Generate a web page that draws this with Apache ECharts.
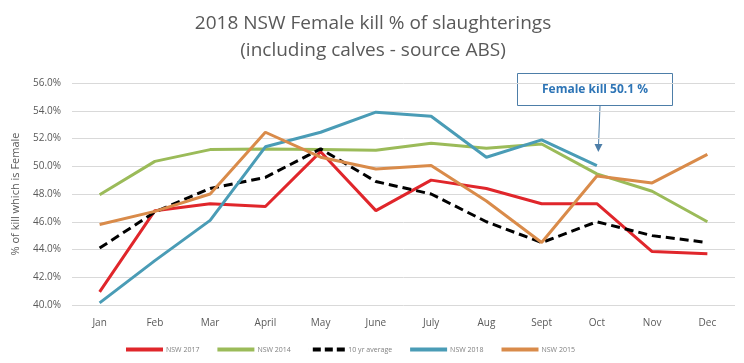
<!DOCTYPE html>
<html>
<head>
<meta charset="utf-8">
<script src="https://cdn.jsdelivr.net/npm/echarts@6/dist/echarts.min.js"></script>
<style>html,body{margin:0;padding:0;background:#fff}#c{width:744px;height:363px}</style>
</head>
<body>
<div id="c"></div>
<script>
var months = ['Jan','Feb','Mar','April','May','June','July','Aug','Sept','Oct','Nov','Dec'];
var nsw2017 = [40.95, 46.8, 47.3, 47.1, 51.05, 46.8, 49.0, 48.4, 47.3, 47.3, 43.85, 43.7];
var nsw2014 = [47.95, 50.35, 51.2, 51.25, 51.2, 51.15, 51.65, 51.3, 51.6, 49.45, 48.2, 46.0];
var avg10 = [44.1, 46.7, 48.4, 49.2, 51.25, 48.9, 48.0, 46.0, 44.5, 46.0, 45.0, 44.5];
var nsw2018 = [40.15, 43.2, 46.1, 51.4, 52.45, 53.9, 53.6, 50.65, 51.9, 50.05, null, null];
var nsw2015 = [45.8, 46.75, 48.0, 52.45, 50.65, 49.8, 50.05, 47.5, 44.5, 49.3, 48.8, 50.85];
var yTicks = {min: 40, max: 56, interval: 2};

function ser(name, data, color, dashed) {
  return {
    name: name, type: 'line', data: data, symbol: 'none', smooth: false,
    lineStyle: {color: color, width: 3, type: dashed ? [9, 5] : 'solid'},
    itemStyle: {color: color},
    connectNulls: false
  };
}

var chart = echarts.init(document.getElementById('c'));
chart.setOption({
  animation: false,
  textStyle: {fontFamily: 'Open Sans'},
  title: {
    text: '2018 NSW Female kill % of slaughterings\n(including calves - source ABS)',
    left: 368, top: 5, textAlign: 'center',
    textStyle: {fontSize: 19, fontWeight: 'normal', color: '#595959', lineHeight: 27, fontFamily: 'Open Sans'}
  },
  grid: {left: 72, right: 9, top: 83, bottom: 58},
  xAxis: {
    type: 'category', data: months, boundaryGap: true,
    axisLine: {show: false}, axisTick: {show: false},
    axisLabel: {color: '#595959', fontSize: 10, margin: 13}
  },
  yAxis: {
    type: 'value', min: yTicks.min, max: yTicks.max, interval: yTicks.interval,
    name: '% of kill which is Female', nameLocation: 'middle', nameGap: 51, nameRotate: 90,
    nameTextStyle: {color: '#595959', fontSize: 11},
    axisLine: {show: false}, axisTick: {show: false},
    axisLabel: {color: '#595959', fontSize: 10, margin: 11, formatter: function (v) { return v.toFixed(1) + '%'; }},
    splitLine: {lineStyle: {color: '#d9d9d9', width: 1}}
  },
  legend: {
    bottom: 5, left: 121, itemWidth: 37, itemHeight: 4, itemGap: 18,
    icon: 'rect',
    textStyle: {color: '#7f7f7f', fontSize: 7, padding: [0, 0, 0, -2]},
    data: [
      {name: 'NSW 2017'}, {name: 'NSW 2014'},
      {name: '10 yr average', icon: 'path://M4,0 L12,0 L12,4 L4,4 Z M16,0 L24,0 L24,4 L16,4 Z M28,0 L36,0 L36,4 L28,4 Z M0,0 L0.01,0 L0.01,4 L0,4 Z'},
      {name: 'NSW 2018'}, {name: 'NSW 2015'}
    ]
  },
  series: [
    ser('NSW 2017', nsw2017, '#e0262b'),
    ser('NSW 2014', nsw2014, '#9bbb59'),
    ser('10 yr average', avg10, '#000000', true),
    ser('NSW 2018', nsw2018, '#4a9cb6'),
    ser('NSW 2015', nsw2015, '#d98b4a')
  ],
  graphic: [
    {type: 'rect', shape: {x: 517.5, y: 73.5, width: 155, height: 32},
     style: {fill: '#fff', stroke: '#4d7ea8', lineWidth: 1}},
    {type: 'text', x: 595, y: 89.5,
     style: {text: 'Female kill 50.1 %', fill: '#2e75b6', font: 'bold 12px "Open Sans"', textAlign: 'center', textVerticalAlign: 'middle'}},
    {type: 'line', shape: {x1: 600, y1: 106, x2: 598.5, y2: 146}, style: {stroke: '#4d7ea8', lineWidth: 1}},
    {type: 'polygon', shape: {points: [[594.5, 144], [602.5, 144], [598.3, 152]]}, style: {fill: '#4d7ea8'}}
  ]
});
</script>
</body>
</html>
